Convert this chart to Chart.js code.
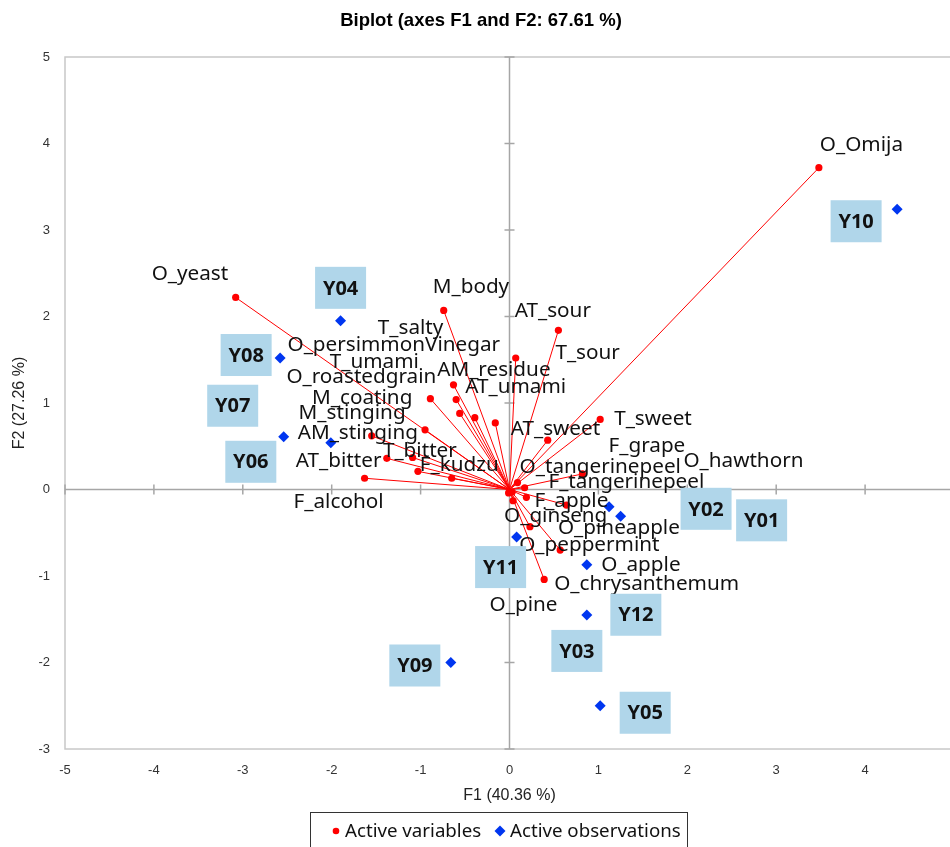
<!DOCTYPE html>
<html><head><meta charset="utf-8">
<script src="https://cdn.jsdelivr.net/npm/chart.js@4.4.1/dist/chart.umd.min.js"></script>
<style>
html,body{margin:0;padding:0;overflow:hidden;background:#fff;}
#wrap{width:960px;height:847px;position:absolute;left:0;top:0;}
canvas{display:block;}
</style></head><body>
<div id="wrap"><canvas id="c"></canvas></div>
<script>
// ---------- data ----------
const titleText = 'Biplot (axes F1 and F2: 67.61 %)';
const xTitle = 'F1 (40.36 %)';
const yTitle = 'F2 (27.26 %)';
const xTickValues = [-5, -4, -3, -2, -1, 0, 1, 2, 3, 4, 5];
const yTickValues = [-3, -2, -1, 0, 1, 2, 3, 4, 5];

const variableNames = ['O_Omija','O_yeast','M_body','AT_sour','T_salty','T_sour','O_persimmonVinegar','T_umami',
  'AM_residue','O_roastedgrain','AT_umami','M_coating','M_stinging','AT_sweet','T_sweet','AM_stinging','T_bitter',
  'F_grape','AT_bitter','F_kudzu','O_hawthorn','O_tangerinepeel','F_tangerinepeel','F_alcohol','F_apple','O_ginseng',
  'O_pineapple','O_peppermint','O_apple','O_chrysanthemum','O_pine'];
const variableF1 = [3.48,-3.08,-0.74,0.07,-0.39,0.55,-0.63,-0.56,-0.60,-0.89,-0.16,-0.95,-1.09,0.43,1.02,-1.55,-1.03,
  0.09,-1.38,-0.65,0.82,0.17,0.19,-1.63,0.64,0.04,0.23,0.57,0.03,0.39,-0.01];
const variableF2 = [3.72,2.22,2.07,1.52,0.83,1.84,1.21,0.88,1.04,1.05,0.77,0.69,0.37,0.57,0.81,0.62,0.21,
  0.08,0.36,0.13,0.18,0.02,-0.09,0.13,-0.18,-0.13,-0.43,-0.70,-0.03,-1.04,-0.04];

const observationNames = ['Y10','Y04','Y08','Y07','Y06','Y02','Y01','Y11','Y12','Y03','Y09','Y05'];
const observationF1 = [4.36,-1.90,-2.58,-2.54,-2.01,1.12,1.25,0.08,0.87,0.87,-0.66,1.02];
const observationF2 = [3.24,1.95,1.52,0.61,0.54,-0.20,-0.31,-0.55,-0.87,-1.45,-2.00,-2.50];

// ---------- layout (label placement, pixels relative to the mark) ----------
const variableLabelOffsets = [[1,-23],[-84,-23],[-11,-23],[-1,-47],[-97,-90],[-3,23],[-166,-40],[-130,-51],
  [-19,-29],[-144,-22],[-30,-36],[-113,-32],[-114,-44],[-37,-11],[14,0],[-74,-3],[-35,-20],
  [91,-36],[-91,3],[-32,-13],[101,-13],[-5,-21],[22,-15],[-71,24],[-32,-4],[-9,15],
  [28,1],[-41,-5],[89,73],[10,5],[-19,112]];
const observationLabelOffsets = [[-41,12],[0,-33],[-34,-3],[-51,-31],[-80,19],[97,2],[141,4],[-16,30],[49,50],[-10,36],[-36,3],[45,7]];

const RED = '#ff0000';
const BLUE = '#0036f0';
const LABEL_FONT = "20.7px 'Noto Sans', sans-serif";
const OBS_FONT = "bold 20px 'Noto Sans', sans-serif";
const TICK_FONT_FAMILY = "'Liberation Sans Narrow', 'Liberation Sans', Arial, sans-serif";

// ---------- datasets built from arrays ----------
const variablePoints = variableF1.map((x, i) => ({x, y: variableF2[i]}));
const observationPoints = observationF1.map((x, i) => ({x, y: observationF2[i]}));
const vectorPoints = [];
variablePoints.forEach(p => { vectorPoints.push({x: 0, y: 0}, {x: p.x, y: p.y}, {x: p.x, y: null}); });

const frame = {
  id: 'frame',
  beforeDatasetsDraw(chart) {
    const {ctx, chartArea: a, scales: {x, y}} = chart;
    ctx.save();
    ctx.strokeStyle = '#c8c8c8';
    ctx.lineWidth = 1.5;
    ctx.strokeRect(a.left, a.top, a.right - a.left, a.bottom - a.top);
    const x0 = x.getPixelForValue(0), y0 = y.getPixelForValue(0);
    ctx.strokeStyle = '#a6a6a6';
    ctx.lineWidth = 1.5;
    ctx.beginPath();
    ctx.moveTo(x0, a.top); ctx.lineTo(x0, a.bottom);
    ctx.moveTo(a.left, y0); ctx.lineTo(a.right, y0);
    yTickValues.forEach(v => { const py = y.getPixelForValue(v); ctx.moveTo(x0 - 5, py); ctx.lineTo(x0 + 5, py); });
    xTickValues.forEach(v => { const px = x.getPixelForValue(v); ctx.moveTo(px, y0 - 5); ctx.lineTo(px, y0 + 5); });
    ctx.stroke();
    ctx.restore();
  },
  afterDatasetsDraw(chart) {
    const {ctx, scales: {x, y}} = chart;
    ctx.save();
    ctx.font = LABEL_FONT;
    ctx.fillStyle = '#111';
    ctx.textAlign = 'left';
    ctx.textBaseline = 'middle';
    variableNames.forEach((n, i) => {
      const px = x.getPixelForValue(variableF1[i]), py = y.getPixelForValue(variableF2[i]);
      const o = variableLabelOffsets[i];
      ctx.fillText(n, px + o[0], py + o[1]);
    });
    ctx.font = OBS_FONT;
    ctx.textAlign = 'center';
    observationNames.forEach((n, i) => {
      const px = x.getPixelForValue(observationF1[i]), py = y.getPixelForValue(observationF2[i]);
      const o = observationLabelOffsets[i];
      const cx = px + o[0], cy = py + o[1];
      ctx.fillStyle = '#b0d6ea';
      ctx.fillRect(cx - 25.5, cy - 21, 51, 42);
      ctx.fillStyle = '#111';
      ctx.fillText(n, cx, cy + 1);
    });
    ctx.restore();
  },
  afterDraw(chart) {
    const {ctx, chartArea: a} = chart;
    ctx.save();
    ctx.fillStyle = '#000';
    ctx.textAlign = 'center';
    ctx.textBaseline = 'middle';
    ctx.font = "bold 18.5px 'Liberation Sans', Arial, sans-serif";
    ctx.fillText(titleText, 481, 21);
    ctx.fillStyle = '#222';
    ctx.font = "16px " + TICK_FONT_FAMILY;
    ctx.fillText(xTitle, (a.left + a.right) / 2, 796);
    ctx.translate(20, (a.top + a.bottom) / 2);
    ctx.rotate(-Math.PI / 2);
    ctx.fillText(yTitle, 0, 0);
    ctx.restore();

    // legend
    ctx.save();
    const ds = chart.data.datasets;
    ctx.strokeStyle = '#333';
    ctx.lineWidth = 1;
    ctx.strokeRect(310.5, 812.5, 377, 40);
    ctx.font = "18.7px 'Noto Sans', sans-serif";
    ctx.textBaseline = 'middle';
    ctx.textAlign = 'left';
    ctx.fillStyle = RED;
    ctx.beginPath(); ctx.arc(336, 831, 3.3, 0, Math.PI * 2); ctx.fill();
    ctx.fillStyle = '#111';
    ctx.fillText(ds[1].label, 345, 832);
    ctx.fillStyle = BLUE;
    ctx.beginPath(); ctx.moveTo(500, 825.5); ctx.lineTo(505.5, 831); ctx.lineTo(500, 836.5); ctx.lineTo(494.5, 831); ctx.closePath(); ctx.fill();
    ctx.fillStyle = '#111';
    ctx.fillText(ds[0].label, 510, 832);
    ctx.restore();
  }
};

new Chart(document.getElementById('c'), {
  type: 'scatter',
  data: {
    datasets: [
      {label: 'Active observations', data: observationPoints, pointStyle: 'rectRot', pointRadius: 5.5,
       backgroundColor: BLUE, borderColor: BLUE, borderWidth: 0},
      {label: 'Active variables', data: variablePoints, pointStyle: 'circle', pointRadius: 3.6,
       backgroundColor: RED, borderColor: RED, borderWidth: 0},
      {label: 'vectors', data: vectorPoints, showLine: true, spanGaps: false, pointRadius: 0,
       borderColor: RED, borderWidth: 1, fill: false}
    ]
  },
  options: {
    responsive: true,
    maintainAspectRatio: false,
    animation: false,
    events: [],
    devicePixelRatio: 1,
    layout: {padding: {top: 57, right: 6, left: 0, bottom: 0}},
    plugins: {legend: {display: false}, title: {display: false}, tooltip: {enabled: false}},
    scales: {
      x: {type: 'linear', min: -5, max: 5,
          afterBuildTicks(s) { s.ticks = xTickValues.map(v => ({value: v})); },
          afterFit(s) { s.height = 98; s.paddingLeft = 0; s.paddingRight = 0; },
          ticks: {padding: 14, color: '#333', font: {family: TICK_FONT_FAMILY, size: 13}, maxRotation: 0, autoSkip: false},
          grid: {display: false, drawTicks: false, tickLength: 0}, border: {display: false}},
      y: {type: 'linear', min: -3, max: 5,
          afterBuildTicks(s) { s.ticks = yTickValues.map(v => ({value: v})); },
          afterFit(s) { s.width = 65; s.paddingTop = 0; s.paddingBottom = 0; },
          ticks: {padding: 15, color: '#333', font: {family: TICK_FONT_FAMILY, size: 13}, autoSkip: false},
          grid: {display: false, drawTicks: false, tickLength: 0}, border: {display: false}}
    }
  },
  plugins: [frame]
});
</script>
</body></html>
